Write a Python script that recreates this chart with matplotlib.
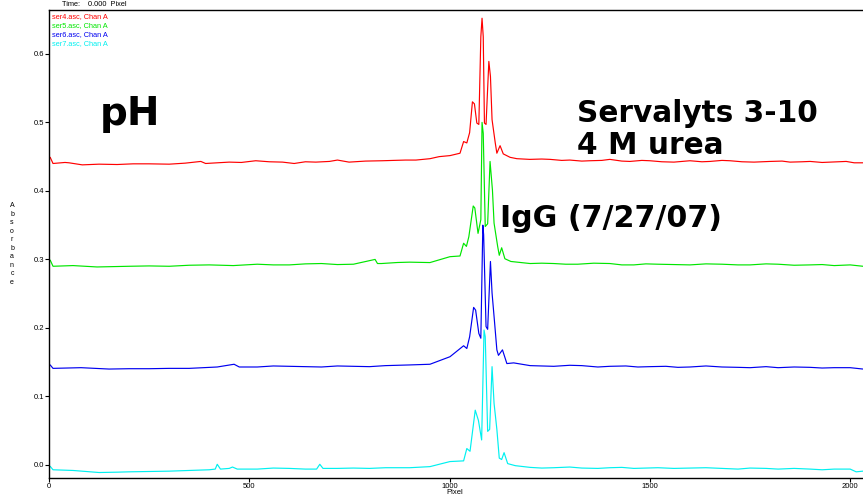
import matplotlib
matplotlib.use("Agg")
import matplotlib.pyplot as plt

plt.rcParams["font.family"] = ["Liberation Sans", "DejaVu Sans"]

# traces (pixel position, absorbance)
ser4_x = [0, 3, 10, 40, 50, 83, 125, 170, 210, 250, 300, 340, 379, 391, 420, 450, 480, 516, 550, 583,
          612, 640, 666, 700, 720, 749, 790, 832, 860, 890, 916, 951, 974, 1001, 1026, 1035, 1043, 1050,
          1057, 1062, 1068, 1073, 1078, 1081, 1084, 1087, 1091, 1098, 1102, 1106, 1114, 1118, 1126,
          1134, 1151, 1168, 1200, 1230, 1251, 1280, 1300, 1330, 1350, 1380, 1400, 1430, 1450, 1480,
          1500, 1530, 1560, 1600, 1630, 1650, 1680, 1700, 1730, 1760, 1800, 1830, 1850, 1880, 1900,
          1930, 1950, 1990, 2010, 2032]
ser4_y = [0.449, 0.449, 0.440, 0.4415, 0.441, 0.438, 0.439, 0.4385, 0.4395, 0.4395, 0.439, 0.4405,
          0.443, 0.440, 0.441, 0.442, 0.4415, 0.444, 0.4425, 0.442, 0.440, 0.4425, 0.442, 0.443, 0.445,
          0.442, 0.4435, 0.444, 0.4445, 0.445, 0.445, 0.447, 0.450, 0.4515, 0.455, 0.472, 0.470, 0.485,
          0.530, 0.527, 0.499, 0.497, 0.625, 0.652, 0.625, 0.499, 0.497, 0.589, 0.567, 0.504, 0.470,
          0.455, 0.466, 0.454, 0.449, 0.447, 0.446, 0.4465, 0.446, 0.4445, 0.445, 0.4435, 0.444,
          0.4445, 0.446, 0.4435, 0.443, 0.4445, 0.444, 0.4425, 0.442, 0.444, 0.4425, 0.443, 0.4445,
          0.444, 0.4425, 0.442, 0.443, 0.4435, 0.442, 0.4425, 0.443, 0.4415, 0.442, 0.443, 0.441, 0.441]

ser5_x = [0, 3, 10, 60, 120, 160, 200, 250, 300, 350, 400, 460, 520, 560, 600, 640, 680, 720, 760,
          814, 820, 830, 870, 900, 951, 1001, 1026, 1035, 1042, 1048, 1059, 1063, 1071, 1078, 1081, 1084,
          1089, 1095, 1101, 1107, 1111, 1120, 1124, 1130, 1138, 1153, 1201, 1230, 1260, 1290, 1320,
          1360, 1400, 1430, 1460, 1490, 1520, 1560, 1600, 1640, 1680, 1720, 1750, 1790, 1820, 1860,
          1900, 1930, 1960, 2000, 2032]
ser5_y = [0.299, 0.299, 0.290, 0.291, 0.289, 0.2895, 0.290, 0.2905, 0.290, 0.2915, 0.292, 0.291,
          0.293, 0.292, 0.292, 0.2935, 0.294, 0.2925, 0.293, 0.300, 0.294, 0.294, 0.2955, 0.296,
          0.2954, 0.304, 0.305, 0.3236, 0.319, 0.333, 0.378, 0.375, 0.338, 0.358, 0.500, 0.484, 0.348,
          0.352, 0.443, 0.401, 0.353, 0.319, 0.306, 0.317, 0.301, 0.297, 0.294, 0.2945, 0.294, 0.293,
          0.293, 0.2945, 0.294, 0.292, 0.292, 0.2935, 0.293, 0.2925, 0.292, 0.2935, 0.293, 0.292,
          0.292, 0.2935, 0.293, 0.2915, 0.292, 0.2925, 0.291, 0.292, 0.290]

ser6_x = [0, 3, 10, 80, 150, 200, 250, 300, 350, 420, 462, 475, 520, 560, 600, 640, 680, 720, 760,
          800, 840, 900, 951, 1001, 1035, 1043, 1050, 1060, 1065, 1073, 1078, 1083, 1085, 1091, 1095,
          1102, 1106, 1112, 1118, 1122, 1132, 1143, 1160, 1201, 1230, 1260, 1300, 1330, 1370, 1400,
          1440, 1470, 1500, 1540, 1570, 1600, 1640, 1680, 1720, 1750, 1790, 1820, 1860, 1900, 1930,
          1960, 2000, 2032]
ser6_y = [0.146, 0.146, 0.141, 0.142, 0.140, 0.1405, 0.1405, 0.141, 0.141, 0.143, 0.147, 0.143,
          0.143, 0.1445, 0.144, 0.1435, 0.143, 0.1445, 0.144, 0.1435, 0.145, 0.146, 0.147, 0.158,
          0.174, 0.170, 0.187, 0.230, 0.226, 0.192, 0.185, 0.350, 0.336, 0.202, 0.198, 0.297, 0.251,
          0.210, 0.168, 0.160, 0.168, 0.148, 0.149, 0.145, 0.1445, 0.144, 0.1455, 0.145, 0.143, 0.144,
          0.1445, 0.143, 0.1435, 0.144, 0.1425, 0.143, 0.1445, 0.143, 0.1425, 0.142, 0.1435, 0.142,
          0.143, 0.1425, 0.1415, 0.142, 0.142, 0.140]

ser7_x = [0, 3, 10, 60, 125, 170, 200, 250, 300, 350, 400, 415, 420, 428, 450, 458, 470, 520, 560,
          600, 640, 668, 676, 684, 720, 760, 800, 840, 900, 951, 1001, 1035, 1043, 1051, 1064, 1072,
          1080, 1086, 1089, 1095, 1100, 1106, 1111, 1118, 1124, 1130, 1136, 1145, 1164, 1201, 1230,
          1260, 1300, 1330, 1370, 1400, 1430, 1460, 1490, 1520, 1560, 1600, 1640, 1680, 1720, 1750,
          1790, 1820, 1860, 1900, 1930, 1960, 2000, 2015, 2032]
ser7_y = [-0.002, -0.002, -0.007, -0.008, -0.011, -0.0105, -0.010, -0.0095, -0.009, -0.008, -0.007,
          -0.006, 0.001, -0.006, -0.005, -0.003, -0.006, -0.006, -0.0045, -0.005, -0.006, -0.006,
          0.001, -0.005, -0.005, -0.0045, -0.005, -0.004, -0.004, -0.0024, 0.005, 0.006, 0.024, 0.020,
          0.080, 0.065, 0.0365, 0.197, 0.187, 0.049, 0.052, 0.1435, 0.090, 0.052, 0.010, 0.008, 0.018,
          0.002, -0.001, -0.0035, -0.0045, -0.004, -0.003, -0.0045, -0.005, -0.004, -0.0035, -0.005,
          -0.0045, -0.004, -0.005, -0.0045, -0.004, -0.005, -0.006, -0.0045, -0.005, -0.006, -0.005,
          -0.006, -0.007, -0.006, -0.006, -0.010, -0.009]

series = [
    ("ser4.asc, Chan A", ser4_x, ser4_y, "#ff0000"),
    ("ser5.asc, Chan A", ser5_x, ser5_y, "#00e600"),
    ("ser6.asc, Chan A", ser6_x, ser6_y, "#0000f0"),
    ("ser7.asc, Chan A", ser7_x, ser7_y, "#00f0f0"),
]

yticks = [0.0, 0.1, 0.2, 0.3, 0.4, 0.5, 0.6]
xticks = [0, 500, 1000, 1500, 2000]

fig = plt.figure(figsize=(8.63, 4.95), dpi=100)
ax = fig.add_axes([49 / 863, 17 / 495, 1 - 49 / 863, 468 / 495])

for name, xs, ys, col in series:
    ax.plot(xs, ys, color=col, lw=0.85)

ax.set_xlim(0, 2032)
ax.set_ylim(-0.019, 0.664)
ax.set_xticks(xticks)
ax.set_xticklabels([str(v) for v in xticks])
ax.set_yticks(yticks)
ax.set_yticklabels([f"{v:.1f}" for v in yticks])
ax.tick_params(direction="out", length=3, width=0.8, labelsize=5.5, pad=0.5)
for s in ax.spines.values():
    s.set_linewidth(1.0)
ax.spines["right"].set_visible(False)

fig.text(455 / 863, 1 - 492 / 495, "Pixel", fontsize=5.5, ha="center", va="center")
fig.text(12 / 863, 1 - 244 / 495, "\n".join("Absorbance"), fontsize=5, ha="center", va="center",
         linespacing=1.3)
fig.text(62 / 863, 1 - 4 / 495, "Time:    0.000  Pixel", fontsize=5.3, ha="left", va="center")

for i, (name, xs, ys, col) in enumerate(series):
    fig.text(52 / 863, 1 - (17 + 8.7 * i) / 495, name, fontsize=5.3, color=col, ha="left", va="center")

big = dict(fontweight="bold", family="DejaVu Sans", ha="left", va="baseline")
fig.text(100 / 863, 1 - 125 / 495, "pH", fontsize=28, **big)
fig.text(577 / 863, 1 - 122 / 495, "Servalyts 3-10", fontsize=21.3, **big)
fig.text(577 / 863, 1 - 154 / 495, "4 M urea", fontsize=21.3, **big)
fig.text(500 / 863, 1 - 227 / 495, "IgG (7/27/07)", fontsize=21.7, **big)

fig.savefig("out.png", dpi=100)
